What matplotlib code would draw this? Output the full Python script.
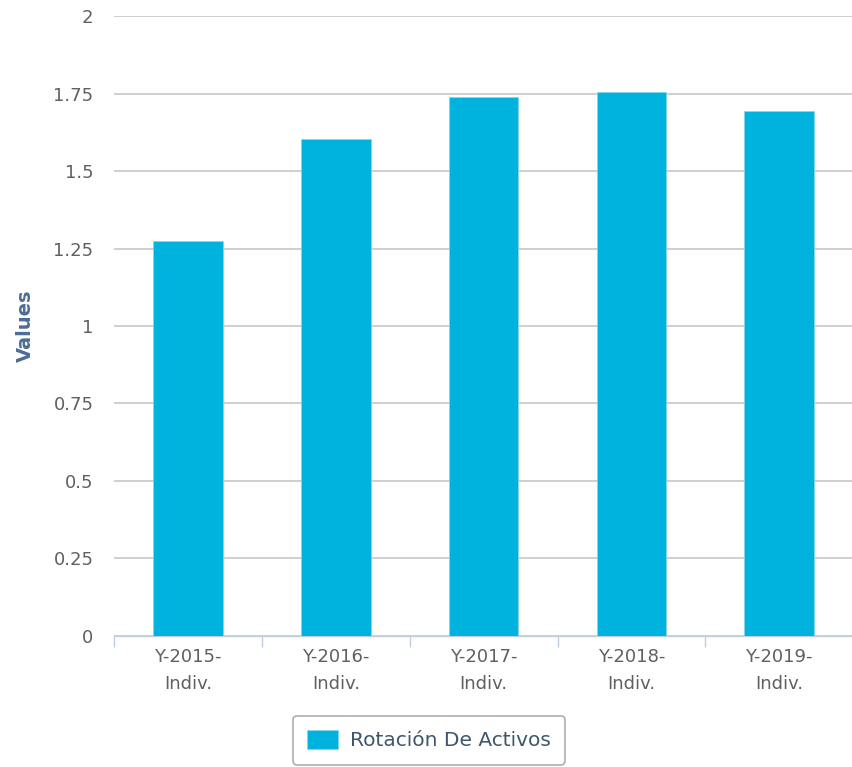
import matplotlib
matplotlib.use("Agg")
from matplotlib import pyplot as plt
from matplotlib.ticker import FixedLocator

# data
categories = ["Y-2015-\nIndiv.", "Y-2016-\nIndiv.", "Y-2017-\nIndiv.", "Y-2018-\nIndiv.", "Y-2019-\nIndiv."]
values = [1.275, 1.605, 1.74, 1.755, 1.695]
yticks = [0, 0.25, 0.5, 0.75, 1, 1.25, 1.5, 1.75, 2]
ytick_labels = ["0", "0.25", "0.5", "0.75", "1", "1.25", "1.5", "1.75", "2"]
series_name = "Rotación De Activos"

bar_color = "#00b2de"
text_color = "#606060"

fig = plt.figure(figsize=(8.53, 7.67), dpi=100)
ax = fig.add_axes([0.134, 0.171, 0.866, 0.808])

x = list(range(len(categories)))
ax.bar(x, values, width=0.47, color=bar_color, edgecolor="#7fd8ef", linewidth=0.6,
       label=series_name, zorder=3)

ax.set_xlim(-0.5, len(categories) - 0.5)
ax.set_ylim(0, 2)
ax.set_yticks(yticks)
ax.set_yticklabels(ytick_labels)
ax.grid(axis="y", color="#cccccc", linewidth=1.3, zorder=0)

# x axis: category labels in the middle, ticks on the borders
ax.set_xticks(x)
ax.set_xticklabels(categories, linespacing=1.6)
ax.xaxis.set_minor_locator(FixedLocator([i - 0.5 for i in range(len(categories) + 1)]))
ax.tick_params(axis="x", which="major", length=0, pad=9, labelsize=13, labelcolor=text_color)
ax.tick_params(axis="x", which="minor", length=8, width=1, color="#c0d0e0")
ax.tick_params(axis="y", length=0, pad=15, labelsize=13, labelcolor=text_color)

for side in ["top", "right", "left"]:
    ax.spines[side].set_visible(False)
ax.spines["bottom"].set_color("#c0d0e0")
ax.spines["bottom"].set_linewidth(1)

ax.set_ylabel("Values", fontsize=14, fontweight="bold", color="#4d6d94", labelpad=13)

leg = fig.legend(loc="center", bbox_to_anchor=(0.503, 0.035), fontsize=14.5,
                 frameon=True, fancybox=True, edgecolor="#999999",
                 handlelength=1.5, handleheight=1.1, borderpad=0.7, handletextpad=0.6)
leg.get_frame().set_linewidth(1.2)
for t in leg.get_texts():
    t.set_color("#3e576f")

fig.savefig("out.png", dpi=100)
